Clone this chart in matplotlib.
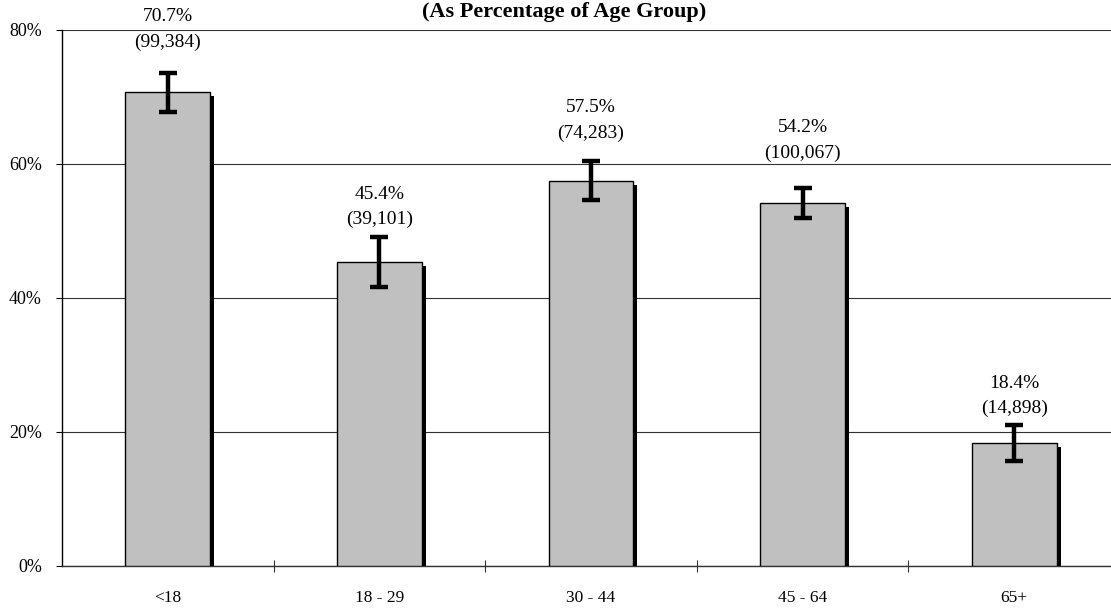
import matplotlib
matplotlib.use("Agg")
import matplotlib.pyplot as plt
from matplotlib.ticker import FixedLocator, PercentFormatter

# Data
groups = ["<18", "18 - 29", "30 - 44", "45 - 64", "65+"]
pct = [70.7, 45.4, 57.5, 54.2, 18.4]
counts = ["(99,384)", "(39,101)", "(74,283)", "(100,067)", "(14,898)"]
err = [2.95, 3.7, 2.9, 2.2, 2.7]

# where the two-line labels sit (middle of the pair, in % units)
label_mid = [80.1, 53.6, 66.5, 63.5, 25.4]

plt.rcParams["font.family"] = ["Liberation Serif", "DejaVu Serif"]

fig = plt.figure(figsize=(11.11, 6.11), dpi=100)
ax = fig.add_axes([62 / 1111, 45 / 611, 1058 / 1111, 536 / 611])

x = list(range(len(groups)))
bw = 0.4
dx = 0.019   # shadow offset (x units)
dy = 0.6     # shadow drop (% units)

# shadow first, then the grey bar on top
ax.bar([i + dx for i in x], [v - dy for v in pct], width=bw, color="black",
       zorder=2, linewidth=0)
ax.bar(x, pct, width=bw, color="#C0C0C0", edgecolor="black", linewidth=1.0,
       zorder=3)
ax.errorbar(x, pct, yerr=err, fmt="none", ecolor="black", elinewidth=3.2,
            capsize=6.5, capthick=3.2, zorder=4)

for i, v in enumerate(pct):
    ax.annotate(f"{v:.1f}%", (i, label_mid[i]), xytext=(0, 9.2),
                textcoords="offset points", ha="center", va="center",
                fontsize=14, annotation_clip=False)
    ax.annotate(counts[i], (i, label_mid[i]), xytext=(0, -9.2),
                textcoords="offset points", ha="center", va="center",
                fontsize=14, annotation_clip=False)

ax.set_xlim(-0.5, 4.5)
ax.set_ylim(0, 80)
ax.set_yticks([0, 20, 40, 60, 80])
ax.yaxis.set_major_formatter(PercentFormatter(decimals=0))
ax.yaxis.grid(True, color="#333333", linewidth=0.8, zorder=0)
ax.set_axisbelow(True)

ax.set_xticks(x)
ax.set_xticklabels(groups)
ax.xaxis.set_minor_locator(FixedLocator([0.5, 1.5, 2.5, 3.5]))
ax.tick_params(axis="x", which="major", length=0, pad=17, labelsize=12.5)
ax.tick_params(axis="x", which="minor", direction="inout", length=9,
               width=0.8, color="#333333")
ax.tick_params(axis="y", direction="out", length=4.5, width=0.8, pad=10,
               labelsize=13)

for s in ["top", "right"]:
    ax.spines[s].set_visible(False)
ax.spines["left"].set_linewidth(1.0)
ax.spines["bottom"].set_color("#333333")
ax.spines["bottom"].set_linewidth(1.0)

fig.text(564 / 1111, 1 - 12 / 611, "(As Percentage of Age Group)",
         ha="center", va="center", fontsize=16, fontweight="bold")

fig.savefig("out.png", dpi=100)
